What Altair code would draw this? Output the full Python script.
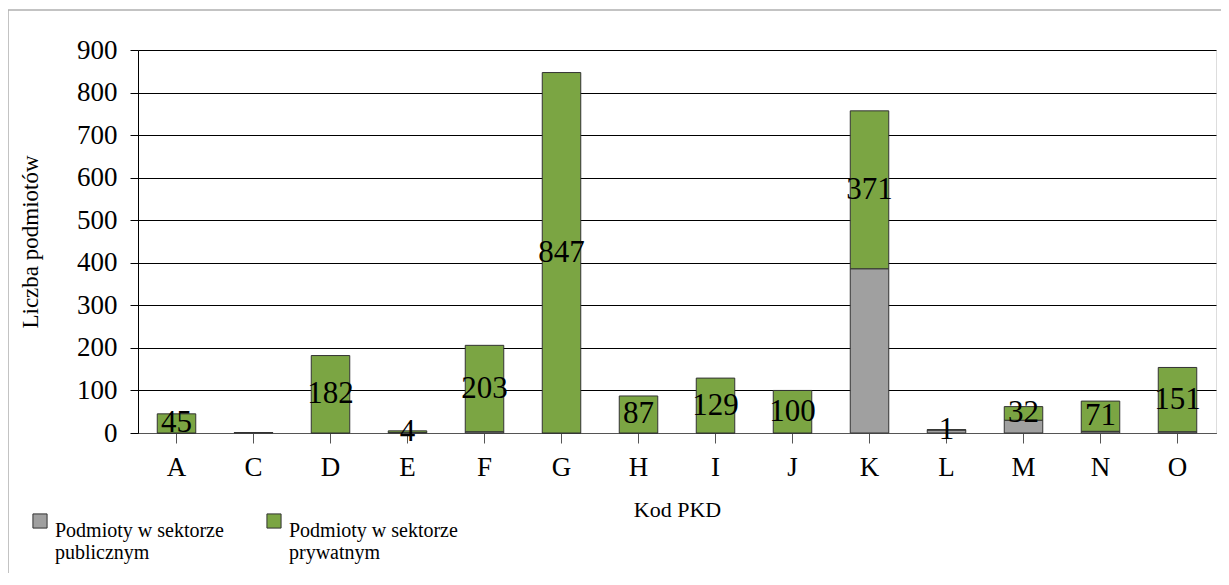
import altair as alt
import pandas as pd

categories = ["A", "C", "D", "E", "F", "G", "H", "I", "J", "K", "L", "M", "N", "O"]
public_vals = [0, 1, 0, 1, 3, 0, 0, 0, 0, 386, 7, 30, 4, 3]
private_vals = [45, 0, 182, 4, 203, 847, 87, 129, 100, 371, 1, 32, 71, 151]
series = ["Podmioty w sektorze\npublicznym", "Podmioty w sektorze\nprywatnym"]
colors = ["#a0a0a0", "#7ba543"]
y_ticks = [0, 100, 200, 300, 400, 500, 600, 700, 800, 900]

rows = []
for c, pu, pr in zip(categories, public_vals, private_vals):
    rows.append({"cat": c, "series": series[0], "value": pu, "ord": 0})
    rows.append({"cat": c, "series": series[1], "value": pr, "ord": 1})
df = pd.DataFrame(rows)

lab = pd.DataFrame({"cat": categories, "pub": public_vals, "priv": private_vals})
lab = lab[lab["priv"] > 0]

FONT = "Liberation Serif"

x_enc = alt.X("cat:N", sort=categories,
              scale=alt.Scale(paddingInner=0.5, paddingOuter=0.25),
              axis=alt.Axis(title="Kod PKD", labelAngle=0, labelFontSize=27,
                            labelFont=FONT, labelColor="black", titleFont=FONT,
                            titleFontSize=22, titleFontWeight="normal",
                            titleColor="black", tickSize=10, tickColor="#555",
                            domainColor="#555", labelPadding=11, titlePadding=19))

bars = alt.Chart(df).mark_bar(stroke="#333", strokeWidth=1).encode(
    x=x_enc,
    y=alt.Y("sum(value):Q",
            scale=alt.Scale(domain=[0, 900], nice=False),
            axis=alt.Axis(title="Liczba podmiotów", values=y_ticks,
                          labelFontSize=27, labelFont=FONT, labelColor="black",
                          titleFont=FONT, titleFontSize=23,
                          titleFontWeight="normal", titleColor="black",
                          gridColor="black", gridWidth=1, tickSize=8,
                          tickColor="black", domainColor="black",
                          labelPadding=13, titlePadding=34)),
    color=alt.Color("series:N",
                    scale=alt.Scale(domain=series, range=colors),
                    legend=alt.Legend(title=None, orient="none",
                                      legendX=-108, legendY=461,
                                      direction="horizontal", columns=2,
                                      columnPadding=40,
                                      symbolType="square", symbolSize=200,
                                      symbolStrokeColor="#333",
                                      symbolStrokeWidth=1,
                                      labelFont=FONT, labelFontSize=20,
                                      labelColor="black", labelOffset=5,
                                      labelLimit=400, labelBaseline="top",
                                      labelExpr="split(datum.label, '\\n')")),
    order=alt.Order("ord:Q", sort="ascending"),
)

texts = alt.Chart(lab).transform_calculate(
    mid="datum.pub + datum.priv / 2"
).mark_text(font=FONT, fontSize=31, color="black", baseline="middle").encode(
    x=alt.X("cat:N", sort=categories),
    y=alt.Y("mid:Q"),
    text=alt.Text("priv:Q"),
)

frame = alt.Chart(pd.DataFrame({"k": [0]})).mark_rect(
    fill=None, stroke="#b0b0b0", strokeWidth=1.5
).encode(x=alt.value(-130), x2=alt.value(1200), y=alt.value(-40), y2=alt.value(700))

chart = alt.layer(frame, bars, texts).properties(
    width=1078, height=383,
    autosize=alt.AutoSizeParams(type="none"),
    padding={"left": 130, "top": 42, "right": 5, "bottom": 140},
).configure_view(stroke=None).configure(background="white")

chart.save("out.html", embed_options={"renderer": "svg", "actions": False})
